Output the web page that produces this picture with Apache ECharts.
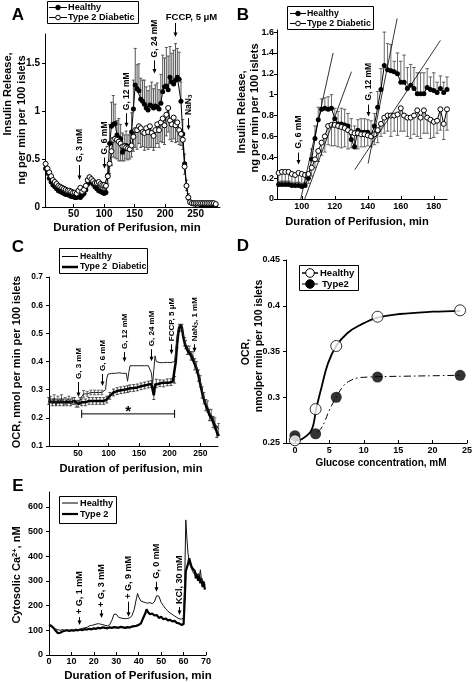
<!DOCTYPE html>
<html><head><meta charset="utf-8">
<script src="https://cdn.jsdelivr.net/npm/echarts@6/dist/echarts.min.js"></script>
<style>html,body{margin:0;padding:0;background:#fff}#c{width:475px;height:682px}</style>
</head><body><div id="c"></div>
<script>
// ---------------- Panel A (insulin release, full run) ----------------
const aTime = [4,7,10,13,16,19,22,25,28,31, 34,37,40,43,46,49,52,55,58,61, 64,67,70,73,76,79,82,85,88,91,
  94,97,100,103,106,109,112,115,118,121, 124,127,130,133,136,139,142,145,148,151, 154,157,160,163,166,169,172,175,178,181,
  184,187,190,193,196,199,202,205,208,211, 214,217,220,223,226,229,232,235,238,241, 244,247,250,253,256,259,262,265,268,271, 274,277,280,283];
const aHealthy = [0.40,0.35,0.30,0.26,0.23,0.21,0.19,0.17,0.16,0.15, 0.14,0.13,0.13,0.12,0.11,0.11,0.10,0.10,0.11,0.10,
  0.12,0.14,0.18,0.24,0.27,0.26,0.24,0.21,0.19,0.17, 0.16,0.15,0.14,0.15,0.33,0.66,0.84,0.86,0.87,0.75,
  0.72,0.71,0.57,0.60,0.64,0.63,0.60,0.78,1.02,1.27, 1.23,1.21,1.12,1.10,1.07,1.03,1.01,1.06,1.05,1.03,
  1.05,1.04,1.02,1.08,1.20,1.25,1.26,1.22,1.35,1.30, 1.28,1.32,1.35,1.33,1.10,0.76,0.45,0.22,0.10,0.05,
  0.04,0.03,0.03,0.03,0.03,0.02,0.02,0.02,0.02,0.02, 0.02,0.02,0.02,0.02];
const aHealthyErr = [0.05,0.05,0.04,0.04,0.04,0.03,0.03,0.03,0.03,0.03, 0.03,0.03,0.03,0.03,0.03,0.03,0.03,0.03,0.03,0.03,
  0.03,0.04,0.05,0.06,0.06,0.05,0.05,0.05,0.05,0.05, 0.05,0.05,0.05,0.05,0.10,0.20,0.25,0.30,0.20,0.15,
  0.20,0.15,0.20,0.15,0.15,0.12,0.15,0.20,0.30,0.38, 0.25,0.28,0.22,0.22,0.25,0.22,0.20,0.20,0.25,0.20,
  0.22,0.25,0.20,0.30,0.38,0.30,0.40,0.35,0.32,0.30, 0.35,0.38,0.30,0.28,0.20,0.15,0.10,0.06,0.04,0.02,
  0.01,0.01,0.01,0.01,0.01,0.01,0.01,0.01,0.01,0.01, 0.01,0.01,0.01,0.01];
const aT2D = [0.45,0.40,0.36,0.32,0.28,0.26,0.24,0.22,0.21,0.20, 0.19,0.18,0.17,0.17,0.16,0.15,0.15,0.14,0.17,0.20,
  0.16,0.18,0.22,0.28,0.31,0.29,0.27,0.25,0.25,0.26, 0.24,0.23,0.23,0.22,0.32,0.45,0.58,0.70,0.71,0.70,
  0.68,0.66,0.63,0.63,0.62,0.61,0.60,0.64,0.73,0.80, 0.80,0.84,0.82,0.78,0.77,0.82,0.78,0.84,0.77,0.74,
  0.80,0.86,0.80,0.88,0.92,0.85,0.96,1.03,0.90,0.86, 0.93,0.85,0.88,0.80,0.76,0.70,0.42,0.22,0.10,0.05,
  0.04,0.04,0.04,0.04,0.04,0.04,0.04,0.04,0.04,0.04, 0.04,0.04,0.04,0.03];
const aT2DErr = [0.03,0.03,0.03,0.03,0.03,0.03,0.03,0.03,0.03,0.03, 0.03,0.03,0.03,0.03,0.03,0.03,0.03,0.03,0.03,0.03,
  0.03,0.04,0.05,0.06,0.06,0.06,0.06,0.06,0.06,0.06, 0.06,0.06,0.06,0.06,0.08,0.10,0.15,0.18,0.20,0.20,
  0.20,0.18,0.15,0.15,0.12,0.12,0.10,0.12,0.15,0.18, 0.20,0.18,0.20,0.15,0.18,0.20,0.18,0.22,0.15,0.15,
  0.18,0.20,0.18,0.20,0.25,0.20,0.22,0.25,0.20,0.18, 0.22,0.18,0.20,0.15,0.12,0.10,0.08,0.05,0.03,0.02,
  0.01,0.01,0.01,0.01,0.01,0.01,0.01,0.01,0.01,0.01, 0.01,0.01,0.01,0.01];
const aXTicks = [50,100,150,200,250];
const aYTicks = [0,0.5,1,1.5];
const aNoteT = [59,100,136,182,238];
const aNoteV = [0.28,0.40,0.83,1.39,0.80];
const aNoteText = ['G, 3 mM','G, 6 mM','G, 12 mM','G, 24 mM','NaN{s|3}'];
const aFccpT = 216, aFccpV = 1.77;

// ---------------- Panel B (zoom of 85-190 min) ----------------
const bTime = [86,88,90,92,94,96,98,100,102,104, 106,108,110,112,114,116,118,120,122,124,
  126,128,130,132,134,136,138,140,142,144, 146,148,150,152,154,156,158,160,162,164,
  166,168,170,172,174,176,178,180,182,184, 186,188];
const bHealthy = [0.14,0.14,0.14,0.14,0.13,0.13,0.13,0.12,0.13,0.20, 0.38,0.58,0.76,0.86,0.87,0.86,0.87,0.77,0.72,0.72,
  0.71,0.70,0.57,0.50,0.66,0.64,0.64,0.64,0.61,0.70, 0.88,1.05,1.28,1.24,1.23,1.22,1.20,1.12,1.12,1.06,
  1.09,1.06,1.01,1.01,1.01,1.07,1.05,1.04,1.02,1.06, 1.02,1.05];
const bHealthyErr = [0.03,0.03,0.03,0.03,0.03,0.03,0.03,0.03,0.03,0.05, 0.10,0.12,0.12,0.10,0.10,0.12,0.13,0.10,0.12,0.15,
  0.15,0.12,0.20,0.20,0.10,0.13,0.13,0.12,0.14,0.12, 0.15,0.20,0.32,0.25,0.25,0.10,0.20,0.20,0.26,0.20,
  0.20,0.20,0.20,0.20,0.20,0.18,0.12,0.17,0.10,0.12, 0.10,0.12];
const bT2D = [0.25,0.26,0.26,0.26,0.24,0.23,0.25,0.24,0.23,0.24, 0.30,0.38,0.46,0.54,0.60,0.70,0.71,0.71,0.70,0.69,
  0.68,0.66,0.64,0.63,0.63,0.62,0.62,0.61,0.60,0.62, 0.66,0.72,0.78,0.80,0.80,0.80,0.81,0.87,0.80,0.78,
  0.78,0.80,0.85,0.78,0.85,0.78,0.76,0.74,0.75,0.86, 0.72,0.86];
const bT2DErr = [0.09,0.09,0.09,0.09,0.09,0.09,0.09,0.09,0.09,0.09, 0.08,0.08,0.10,0.12,0.15,0.18,0.20,0.20,0.20,0.20,
  0.18,0.18,0.15,0.15,0.15,0.12,0.12,0.10,0.10,0.10, 0.12,0.12,0.15,0.15,0.20,0.15,0.20,0.22,0.15,0.18,
  0.20,0.18,0.25,0.20,0.22,0.15,0.18,0.15,0.12,0.20, 0.15,0.20];
const bSlopeLines = [ [[99.4,0],[119,1.40]], [[101.8,0],[130.1,1.22]], [[140.2,0.34],[157.8,1.73]], [[132.1,0.28],[184,1.52]] ];
const bXTicks = [100,120,140,160,180];
const bYTicks = [0,0.2,0.4,0.6,0.8,1,1.2,1.4,1.6];
const bNoteT = [97.6,140];
const bNoteV = [0.33,0.79];
const bNoteText = ['G, 6 mM','G, 12 mM'];

// ---------------- Panel C (OCR) ----------------
const cTime = [2,5,8,11,14,17,20,23,26,29, 32,35,38,41,44,47,50,53,56,59, 62,65,68,71,74,77,80,83,86,89,
  92,95,97,99,102,105,108,111,114,117, 120,123,126,129,131,133,135,138,141,144, 147,150,153,156,159,162,165,168,170,172,
  174,176,178,181,184,187,190,193,196,199, 202,205,208,210,212,214,216,218,220,222, 224,226,229,232,235,238,241,244,247,250,
  253,256,259,262,265,268,271,274,277,280];
const cHealthy = [0.255,0.265,0.250,0.270,0.245,0.265,0.255,0.270,0.250,0.260, 0.255,0.265,0.250,0.260,0.255,0.250,0.255,0.260,0.275,0.285,
  0.290,0.285,0.290,0.290,0.285,0.290,0.290,0.290,0.290,0.290, 0.290,0.300,0.340,0.355,0.358,0.358,0.360,0.358,0.358,0.360,
  0.358,0.358,0.360,0.358,0.330,0.360,0.385,0.386,0.385,0.386, 0.385,0.386,0.385,0.386,0.385,0.386,0.385,0.385,0.360,0.320,
  0.370,0.420,0.400,0.396,0.396,0.397,0.396,0.396,0.397,0.396, 0.396,0.397,0.400,0.440,0.490,0.520,0.530,0.530,0.520,0.500,
  0.480,0.460,0.450,0.440,0.430,0.420,0.400,0.380,0.360,0.330, 0.300,0.270,0.250,0.240,0.220,0.210,0.200,0.180,0.170,0.160];
const cHealthyErr = [0,0.012,0,0.012,0,0.012,0,0.012,0,0.012, 0,0.012,0,0.012,0,0.012,0,0.012,0,0.012,
  0,0.008,0,0.008,0,0.008,0,0.008,0,0.008, 0,0,0,0,0,0,0,0,0,0, 0,0,0,0,0,0,0,0,0,0, 0,0,0,0,0,0,0,0,0,0,
  0,0,0,0,0,0,0,0,0,0, 0,0,0,0,0,0,0,0,0,0, 0,0.015,0,0.015,0,0.015,0,0.02,0,0.02, 0,0.02,0,0.02,0,0.02,0,0.02,0,0.02];
const cT2D = [0.260,0.265,0.255,0.260,0.255,0.260,0.255,0.260,0.255,0.260, 0.255,0.260,0.255,0.255,0.260,0.255,0.250,0.250,0.255,0.250,
  0.255,0.255,0.260,0.255,0.260,0.255,0.260,0.255,0.260,0.260, 0.260,0.262,0.265,0.270,0.278,0.285,0.290,0.292,0.295,0.297,
  0.298,0.300,0.300,0.302,0.302,0.300,0.305,0.305,0.306,0.308, 0.308,0.310,0.312,0.313,0.315,0.316,0.318,0.320,0.320,0.315,
  0.280,0.318,0.322,0.320,0.323,0.324,0.322,0.325,0.326,0.325, 0.327,0.328,0.335,0.400,0.460,0.500,0.520,0.530,0.520,0.490,
  0.470,0.455,0.440,0.430,0.420,0.405,0.390,0.375,0.350,0.320, 0.290,0.265,0.245,0.230,0.210,0.200,0.185,0.170,0.150,0.135];
const cT2DErr = [0.012,0,0.012,0,0.012,0,0.012,0,0.012,0, 0.012,0,0.012,0,0.012,0,0.012,0,0.012,0,
  0.012,0,0.012,0,0.012,0,0.012,0,0.012,0, 0.012,0,0.012,0,0.012,0,0.012,0,0.012,0,
  0.012,0,0.012,0,0.012,0,0.012,0,0.012,0, 0.012,0,0.012,0,0.012,0,0.012,0,0.012,0,
  0.015,0,0.015,0,0.012,0,0.012,0,0.012,0, 0.012,0,0.012,0,0.012,0,0.012,0,0.012,0,
  0.015,0,0.015,0,0.015,0,0.02,0,0.02,0, 0.02,0,0.02,0,0.02,0,0.02,0,0.02,0];
const cXTicks = [50,100,150,200,250];
const cYTicks = [0.1,0.2,0.3,0.4,0.5,0.6,0.7];
const cNoteT = [50,89,125,169,202,240];
const cNoteV = [0.274,0.313,0.398,0.401,0.426,0.433];
const cNoteText = ['G, 3 mM','G, 6 mM','G, 12 mM','G, 24 mM','FCCP, 5 \u03bcM','NaN{s|3}, 1 mM'];
const cBracket = [[56,0.214],[208,0.214]];
const cStar = [132,0.232];

// ---------------- Panel D (OCR vs glucose) ----------------
const dGlucose = [0,3,6,12,24];
const dHealthy = [0.253,0.287,0.356,0.388,0.395];
const dType2 = [0.258,0.260,0.300,0.322,0.324];
const dFitHealthyX = [0,0.95,2.4,3.1,3.9,4.8,6.0,7.6,9.5,12,15.2,20,24];
const dFitHealthyY = [0.2525,0.254,0.264,0.288,0.312,0.337,0.356,0.370,0.379,0.387,0.391,0.3935,0.3945];
const dFitType2X = [3.3,3.8,4.3,5,6,7.1,8,9,10.5,12,16,20,24];
const dFitType2Y = [0.262,0.266,0.273,0.286,0.300,0.313,0.318,0.321,0.322,0.3225,0.323,0.3235,0.324];
const dXTicks = [0,5,10,15,20,25];
const dYTicks = [0.25,0.3,0.35,0.4,0.45];

// ---------------- Panel E (cytosolic Ca2+) ----------------
const eTime = [0,1,2,3,4,5,6,7,8,9, 10,11,12,13,14,15,16,17,18,19, 20,21,22,23,24,25,26,27,28,29,
  29.5,30,31,32,33,34,35,36,37,38, 39,39.5,40,41,42,43,43.5,44,45,46, 47,48,48.5,49,50,51,52,53,54,55,
  56,57,58,59,60,60.5,61,61.5,62,62.5, 63,63.5,64,64.5,65,65.5,66,66.5,67,67.5, 68,68.5,69,69.5];
const eHealthy = [120,115,110,105,102,100,103,100,102,100, 103,101,104,103,105,108,110,112,118,120,
  122,125,127,125,123,120,118,122,140,165, 171,165,153,150,148,147,148,150,160,185,
  230,249,235,218,215,212,214,210,212,208, 215,240,247,238,213,200,187,178,170,164,
  158,152,147,145,150,300,547,470,410,380, 360,350,340,330,327,335,320,330,315,345, 300,290,300,285];
const eType2 = [122,118,110,98,88,90,95,98,100,97, 100,98,102,100,103,101,105,103,106,104,
  108,106,110,108,112,110,108,112,110,113, 111,112,110,114,112,110,113,111,115,117,
  118,120,122,128,150,170,185,175,165,168, 160,162,155,150,155,145,148,140,142,136,
  138,130,128,122,125,220,340,355,370,392, 375,360,350,345,340,310,325,300,320,290, 310,275,295,265];
const eXTicks = [0,10,20,30,40,50,60,70];
const eYTicks = [0,100,200,300,400,500,600];
const eNoteT = [13.5,23.2,35.4,47.8,58.1];
const eNoteV = [121,150,155,256,162];
const eNoteText = ['+ G, 1 mM','+ G, 3 mM','+ G, 9 mM','G, 0 mM','KCl, 30 mM'];

// ================= drawing =================
const F = '"Liberation Sans", Arial, Helvetica, sans-serif';
const chart = echarts.init(document.getElementById('c'), null, {renderer:'canvas', width:475, height:682});
function fmt(v){ return String(+(+v).toFixed(3)); }
function xAx(gi,min,max,vals,fs,margin){
  return {gridIndex:gi,type:'value',min,max,
    axisLine:{show:true,onZero:false,lineStyle:{color:'#000',width:1}},
    axisTick:{show:true,inside:true,length:3,customValues:vals,lineStyle:{color:'#000'}},
    axisLabel:{show:true,customValues:vals,margin,fontSize:fs,fontWeight:'bold',fontFamily:F,color:'#000',formatter:fmt},
    splitLine:{show:false}};
}
function yAx(gi,min,max,vals,fs,margin){
  return {gridIndex:gi,type:'value',min,max,
    axisLine:{show:true,onZero:false,lineStyle:{color:'#000',width:1}},
    axisTick:{show:true,inside:false,length:3,customValues:vals,lineStyle:{color:'#000'}},
    axisLabel:{show:true,customValues:vals,margin,fontSize:fs,fontWeight:'bold',fontFamily:F,color:'#000',formatter:fmt},
    splitLine:{show:false}};
}
function pairs(xs,ys){ return xs.map((x,i)=>[x,ys[i]]); }
function errS(gi,ts,vs,es,dir,color,cap,w){
  return {type:'custom',xAxisIndex:gi,yAxisIndex:gi,silent:true,z:1,animation:false,
    data: ts.map((t,i)=>[t,vs[i],es[i]]),
    renderItem(params,api){
      const t=api.value(0), v=api.value(1), e=api.value(2);
      if(!e) return null;
      const lo = dir==='up'? v : v-e, hi = dir==='down'? v : v+e;
      const a=api.coord([t,lo]), b=api.coord([t,hi]);
      const st={stroke:color,lineWidth:w};
      const ch=[{type:'line',shape:{x1:a[0],y1:a[1],x2:b[0],y2:b[1]},style:st}];
      if(dir!=='down') ch.push({type:'line',shape:{x1:b[0]-cap,y1:b[1],x2:b[0]+cap,y2:b[1]},style:st});
      if(dir!=='up') ch.push({type:'line',shape:{x1:a[0]-cap,y1:a[1],x2:a[0]+cap,y2:a[1]},style:st});
      return {type:'group',children:ch};
    }};
}
function lineS(gi,data,opt){
  return Object.assign({type:'line',xAxisIndex:gi,yAxisIndex:gi,data,animation:false,silent:true,z:3}, opt);
}
const filled = {symbol:'circle',symbolSize:5,itemStyle:{color:'#000'},lineStyle:{color:'#000',width:1}};
const open = {symbol:'circle',symbolSize:5,itemStyle:{color:'#fff',borderColor:'#000',borderWidth:1},lineStyle:{color:'#000',width:1},z:4};

const series = [
  errS(0,aTime,aHealthy,aHealthyErr,'up','#555',1.5,1),
  errS(0,aTime,aT2D,aT2DErr,'down','#555',1.5,1),
  lineS(0,pairs(aTime,aHealthy),filled),
  lineS(0,pairs(aTime,aT2D),open),

  errS(1,bTime,bHealthy,bHealthyErr,'up','#444',1.8,0.8),
  errS(1,bTime,bT2D,bT2DErr,'down','#444',1.8,0.8),
  lineS(1,pairs(bTime,bHealthy),filled),
  lineS(1,pairs(bTime,bT2D),open),
  ...bSlopeLines.map(l=>lineS(1,l,{symbol:'none',clip:false,lineStyle:{color:'#000',width:0.8},z:5})),

  errS(2,cTime,cT2D,cT2DErr,'both','#222',1.5,0.8),
  errS(2,cTime,cHealthy,cHealthyErr,'both','#444',1.5,0.8),
  lineS(2,pairs(cTime,cT2D),{symbol:'none',lineStyle:{color:'#000',width:2.5}}),
  lineS(2,pairs(cTime,cHealthy),{symbol:'none',lineStyle:{color:'#222',width:1},z:4}),
  lineS(2,cBracket,{symbol:'none',lineStyle:{color:'#000',width:1}}),

  lineS(3,pairs(dFitHealthyX,dFitHealthyY),{symbol:'none',smooth:0.4,lineStyle:{color:'#000',width:1.8}}),
  lineS(3,pairs(dFitType2X,dFitType2Y),{symbol:'none',smooth:0.4,lineStyle:{color:'#000',width:1,type:[7,3,1.5,3]}}),
  {type:'scatter',xAxisIndex:3,yAxisIndex:3,data:pairs(dGlucose,dType2),symbol:'circle',symbolSize:11,itemStyle:{color:'#000'},animation:false,silent:true,z:6},
  {type:'scatter',xAxisIndex:3,yAxisIndex:3,data:pairs(dGlucose,dHealthy),symbol:'circle',symbolSize:11,itemStyle:{color:'#fff',borderColor:'#000',borderWidth:1},animation:false,silent:true,z:7},

  lineS(4,pairs(eTime,eType2),{symbol:'none',lineStyle:{color:'#000',width:2.2}}),
  lineS(4,pairs(eTime,eHealthy),{symbol:'none',lineStyle:{color:'#111',width:1},z:4}),
];

chart.setOption({
  animation:false,
  backgroundColor:'#fff',
  grid:[
    {left:45,top:34,width:175,height:173},
    {left:277,top:30,width:170,height:169},
    {left:49,top:277,width:169,height:169},
    {left:286,top:260,width:184,height:183},
    {left:49,top:492,width:157,height:163}
  ],
  xAxis:[ xAx(0,3,290,aXTicks,10,2), xAx(1,85,188,bXTicks,9,3), xAx(2,2.5,279,cXTicks,8.5,3), xAx(3,-1.3,25,dXTicks,9,3), xAx(4,0,70,eXTicks,9,2) ],
  yAxis:[ yAx(0,0,1.8,aYTicks,10,5), yAx(1,0,1.62,bYTicks,9,3), yAx(2,0.1,0.7,cYTicks,8.5,6), yAx(3,0.25,0.45,dYTicks,9,6), yAx(4,0,660,eYTicks,9,6) ],
  series
});

// ---------- annotations, titles, legends ----------
const G = [];
function T(x,y,text,fs,opt){
  const o = Object.assign({align:'center',vAlign:'middle',rot:0,rich:null},opt||{});
  const st = {text,fontSize:fs,fontWeight:'bold',fontFamily:F,fill:'#000',align:o.align,verticalAlign:o.vAlign};
  if(o.rich) st.rich=o.rich;
  G.push({type:'text',x,y,rotation:o.rot,style:st,z:100});
}
function L(x1,y1,x2,y2,w){ G.push({type:'line',shape:{x1,y1,x2,y2},style:{stroke:'#000',lineWidth:w||1},z:100}); }
function arrow(gi,t,v,len,text,fs,gap){
  const p = chart.convertToPixel({xAxisIndex:gi,yAxisIndex:gi},[t,v]);
  const x = Math.round(p[0])+0.5, y = p[1];
  L(x,y-len,x,y-3,1);
  G.push({type:'polygon',shape:{points:[[x-2,y-4.5],[x+2,y-4.5],[x,y]]},style:{fill:'#000'},z:100});
  if(text){
    const rich = {s:{fontSize:fs*0.72,fontWeight:'bold',fontFamily:F,verticalAlign:'bottom',padding:[fs*0.4,0,0,0]}};
    T(x,y-len-gap,text,fs,{align:'left',rot:Math.PI/2,rich});
  }
  return [x,y];
}
aNoteT.forEach((t,i)=>arrow(0,t,aNoteV[i],[15,11,14,13,12][i],aNoteText[i],8.5,3));
{ const p = arrow(0,aFccpT,aFccpV,14,null); T(p[0]+16,p[1]-20,'FCCP, 5 \u03bcM',9.5); }
bNoteT.forEach((t,i)=>arrow(1,t,bNoteV[i],12,bNoteText[i],8.5,4));
cNoteT.forEach((t,i)=>arrow(2,t,cNoteV[i],[15,12,10,12,10,8][i],cNoteText[i],8,3));
eNoteT.forEach((t,i)=>arrow(4,t,eNoteV[i],[8,8,15,10,8][i],eNoteText[i],9,3));

// bracket ends and star in C
{ const a = chart.convertToPixel({xAxisIndex:2,yAxisIndex:2},cBracket[0]);
  const b = chart.convertToPixel({xAxisIndex:2,yAxisIndex:2},cBracket[1]);
  L(a[0],a[1]-4,a[0],a[1]+4,1); L(b[0],b[1]-4,b[0],b[1]+4,1);
  const s = chart.convertToPixel({xAxisIndex:2,yAxisIndex:2},cStar);
  T(s[0],s[1]+3,'*',15); }

// panel letters
T(18,15,'A',17); T(243,15,'B',17); T(18,247,'C',17); T(243,246,'D',17); T(18,486,'E',17);

// axis titles
T(127,228,'Duration of Perifusion, min',11.5);
T(357,222,'Duration of Perifusion, min',11.2);
T(131,469,'Duration of perifusion, min',11.2);
T(381,463,'Glucose concentration, mM',10);
T(138,676,'Duration of Perifusion, min',11.5);
const R = Math.PI/2;
T(8,94,'Insulin Release,',11,{rot:R});
T(22,120,'ng per min per 100 islets',11,{rot:R});
T(242,112,'Insulin Release,',11,{rot:R});
T(255,108,'ng per min per 100 islets',11,{rot:R});
T(17,362,'OCR, nmol per min per 100 islets',11,{rot:R});
T(246,352,'OCR,',10.5,{rot:R});
T(259,346,'nmolper min per 100 islets',10.5,{rot:R});
T(17,575,'Cytosolic Ca{p|2+}, nM',11,{rot:R,rich:{p:{fontSize:7.5,fontWeight:'bold',fontFamily:F,verticalAlign:'top',padding:[0,0,5,0]}}});

// legends
function box(x,y,w,h){ G.push({type:'rect',shape:{x:x+0.5,y:y+0.5,width:w,height:h},style:{fill:'#fff',stroke:'#000',lineWidth:1},z:99}); }
function dot(x,y,r,fillc){ G.push({type:'circle',shape:{cx:x,cy:y,r},style:{fill:fillc,stroke:'#000',lineWidth:1},z:101}); }
// A
box(47,1,91,22);
L(49,7.5,67,7.5,1); dot(58,7.5,2.3,'#000'); T(68,7.5,'Healthy',9.2,{align:'left'});
L(49,17.5,67,17.5,1); dot(58,17.5,2.3,'#fff'); T(68,17.5,'Type 2 Diabetic',9.2,{align:'left'});
// B
box(287,6,86,23);
L(290,13.5,306,13.5,1); dot(298,13.5,2.3,'#000'); T(307,13.5,'Healthy',8.8,{align:'left'});
L(290,23.5,306,23.5,1); dot(298,23.5,2.3,'#fff'); T(307,23.5,'Type 2 Diabetic',8.8,{align:'left'});
// C
box(59,248,88,25);
L(62,256.5,78,256.5,1); T(80,256.5,'Healthy',8.8,{align:'left'});
L(62,267,78,267,2.5); T(80,267,'Type 2  Diabetic',8.8,{align:'left'});
// D
box(299,265,59,25);
L(302,273,318,273,1.5); dot(310,273,4.3,'#fff'); T(320,273,'Healthy',9.5,{align:'left'});
L(302,284,318,284,1); dot(310,284,4.3,'#000'); T(322,284,'Type2',9.5,{align:'left'});
// E
box(59,496,57,27);
L(62,503,78,503,1); T(80,503,'Healthy',9.2,{align:'left'});
L(62,514,78,514,2.2); T(80,514,'Type 2',9.2,{align:'left'});

chart.setOption({graphic:{elements:G}});
</script></body></html>
